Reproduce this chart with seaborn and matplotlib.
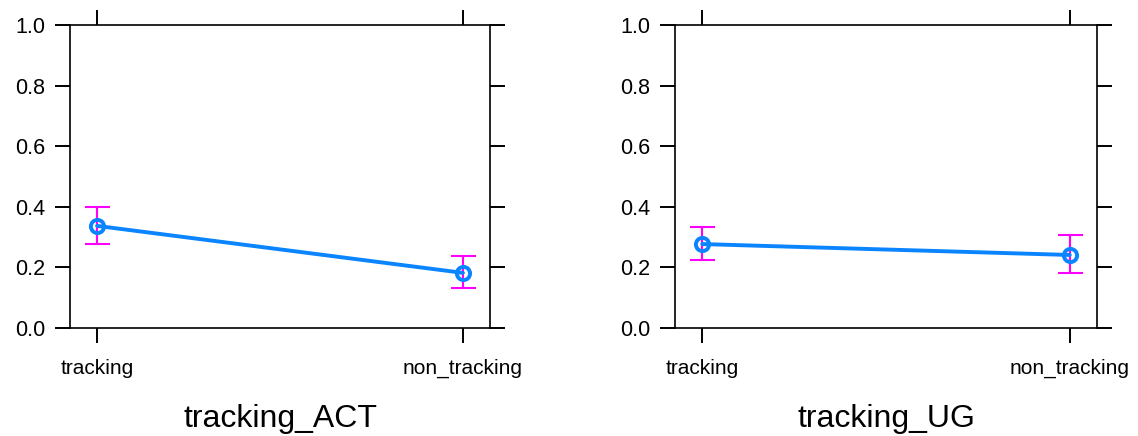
import numpy as np
import pandas as pd
import matplotlib
matplotlib.use("Agg")
import matplotlib.pyplot as plt
import seaborn as sns

# effect estimates
levels = ["tracking", "non_tracking"]
act_fit = [0.337, 0.182]
act_lower = [0.277, 0.132]
act_upper = [0.400, 0.238]
ug_fit = [0.277, 0.241]
ug_lower = [0.224, 0.182]
ug_upper = [0.333, 0.307]
panel_titles = ["tracking_ACT", "tracking_UG"]
yticks = [0.0, 0.2, 0.4, 0.6, 0.8, 1.0]

sns.set_style("white")
plt.rcParams["font.family"] = ["Liberation Sans", "DejaVu Sans"]
plt.rcParams["text.color"] = "black"
plt.rcParams["axes.labelcolor"] = "black"
plt.rcParams["xtick.color"] = "black"
plt.rcParams["ytick.color"] = "black"

fig = plt.figure(figsize=(11.38, 4.36), dpi=100)
ax1 = fig.add_axes([70 / 1138, 108 / 436, 420 / 1138, 303 / 436])
ax2 = fig.add_axes([675 / 1138, 108 / 436, 422 / 1138, 303 / 436])

panels = [(ax1, act_fit, act_lower, act_upper, panel_titles[0]),
          (ax2, ug_fit, ug_lower, ug_upper, panel_titles[1])]

for ax, fit, lo, hi, title in panels:
    df = pd.DataFrame({"level": levels, "fit": fit})
    fit = np.array(fit)
    err = [fit - np.array(lo), np.array(hi) - fit]
    ax.errorbar(levels, fit, yerr=err, fmt="none", ecolor="#ff00ff",
                elinewidth=1.5, capsize=9, capthick=1.5, zorder=2)
    sns.lineplot(data=df, x="level", y="fit", ax=ax, color="#0a84ff",
                 linewidth=2.8, sort=False, zorder=3)
    ax.plot(levels, fit, "o", mfc="none", mec="#0a84ff", mew=2.8,
            ms=9.5, zorder=4)
    ax.set_xlim(-0.074, 1.074)
    ax.set_ylim(0, 1)
    ax.set_yticks(yticks)
    ax.set_yticklabels([f"{v:.1f}" for v in yticks], fontsize=15.5)
    ax.set_xticks([0, 1])
    ax.set_xticklabels(levels, fontsize=15)
    ax.tick_params(axis="both", direction="out", length=11, width=1.4,
                   color="black", left=True, bottom=True, top=True,
                   right=True, labeltop=False, labelright=False)
    ax.tick_params(axis="y", pad=7)
    ax.tick_params(axis="x", pad=11)
    for s in ax.spines.values():
        s.set_color("black")
        s.set_linewidth(1.2)
    ax.set_ylabel("")
    ax.set_xlabel(title, fontsize=23, labelpad=19)
    ax.grid(False)

fig.savefig("out.png", dpi=100)
